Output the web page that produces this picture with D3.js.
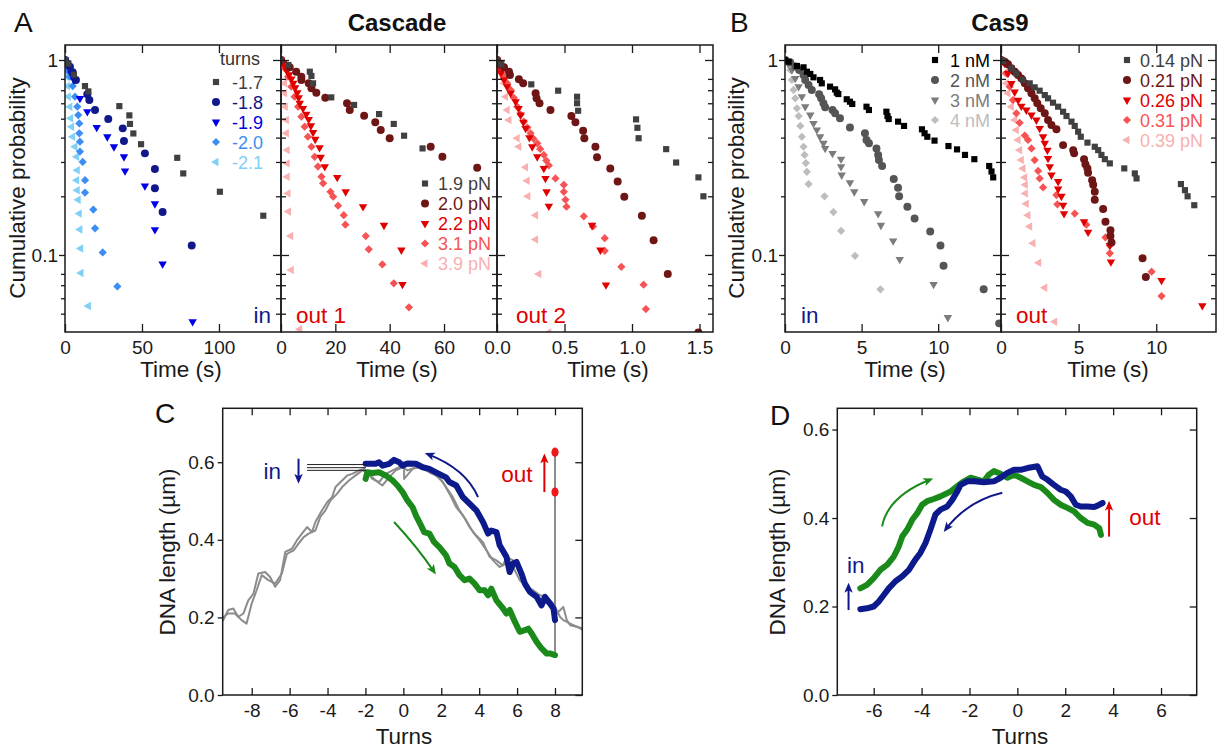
<!DOCTYPE html>
<html>
<head>
<meta charset="utf-8">
<script src="https://cdn.jsdelivr.net/npm/d3@7"></script>
<style>
  body { margin: 0; background: #fff; }
  text { font-family: "Liberation Sans", Arial, sans-serif; }
</style>
</head>
<body>
<div id="fig"></div>
<script>
// ---------- data ----------
// panel A, "in" (turns)
const turnsLabels = ["-1.7", "-1.8", "-1.9", "-2.0", "-2.1"];
const inM17 = [[0,1],[2.2,0.96],[5.8,0.84],[13,0.735],[15.2,0.69],[35.3,0.58],[41.8,0.52],[42.2,0.47],[44.4,0.42],[49.4,0.37],[72.9,0.315],[76.8,0.262],[100.6,0.211],[128.8,0.159]];
const inM18 = [[0,1],[1.5,0.96],[3.2,0.924],[5,0.865],[7.1,0.79],[14.5,0.667],[15.8,0.623],[19.5,0.554],[28.1,0.498],[37.5,0.446],[38.3,0.384],[51.9,0.332],[58.4,0.276],[58.4,0.22],[63.4,0.166],[82.3,0.112]];
const inM19 = [[0,1],[1,0.96],[2.2,0.924],[4,0.85],[5.8,0.79],[9.7,0.636],[14.5,0.543],[20.6,0.451],[27.5,0.404],[31.8,0.359],[38.3,0.319],[39,0.27],[51.9,0.226],[58.4,0.183],[58.4,0.135],[63.4,0.09],[82.9,0.0455]];
const inM20 = [[0,1],[1,0.93],[2,0.88],[3.2,0.821],[5,0.735],[6.5,0.648],[8,0.576],[8.6,0.522],[9.3,0.473],[9.3,0.421],[9.7,0.381],[9.7,0.339],[11.5,0.3],[13,0.242],[13,0.209],[18.4,0.171],[19.5,0.137],[24.5,0.103],[34,0.069]];
const inM21 = [[0,1],[0.3,0.93],[0.6,0.87],[1.1,0.821],[1.7,0.735],[2.2,0.648],[3.2,0.576],[3.7,0.503],[4.3,0.455],[5,0.404],[6.5,0.359],[7.6,0.319],[8,0.272],[7.6,0.242],[8,0.215],[8.6,0.192],[9.3,0.163],[9.7,0.135],[10.2,0.108],[10.4,0.0809],[15.2,0.0548]];

// panel A, "out 1" and "out 2" (force)
const cascadeForceLabels = ["1.9 pN", "2.0 pN", "2.2 pN", "3.1 pN", "3.9 pN"];
const out1F19 = [[0,1],[2.7,0.943],[10.6,0.871],[11.2,0.828],[11.8,0.759],[18.5,0.643],[26.9,0.588],[36.1,0.528],[41.5,0.47],[45.3,0.409],[52.1,0.352]];
const out1F20 = [[0,1],[3.2,0.917],[5.6,0.871],[7.5,0.821],[7.5,0.79],[10.2,0.759],[11.2,0.716],[13,0.68],[16.3,0.641],[24.3,0.6],[25.3,0.554],[30.6,0.518],[34.7,0.479],[36.7,0.438],[40,0.397],[55.1,0.359],[59.4,0.319],[72.2,0.28]];
const out1F22 = [[0,1],[0.8,0.96],[1.5,0.92],[2.2,0.88],[3,0.84],[3.8,0.8],[4.5,0.76],[5.2,0.72],[6,0.68],[6.5,0.64],[6.9,0.6],[8.1,0.565],[9.3,0.528],[10.2,0.496],[11,0.46],[11.8,0.425],[12.6,0.392],[14.2,0.355],[14.6,0.317],[16.1,0.284],[20.7,0.25],[23.8,0.211],[30.2,0.177],[37.9,0.142],[44.3,0.106],[44.7,0.0706]];
const out1F31 = [[0,1],[0.7,0.98],[1.6,0.9],[2.6,0.821],[3.8,0.73],[5,0.648],[6.3,0.576],[7.5,0.512],[8.7,0.455],[9.9,0.404],[11.2,0.359],[12.4,0.319],[13.6,0.284],[14.9,0.252],[15.5,0.233],[18.2,0.211],[19.2,0.199],[21,0.179],[23.1,0.16],[23.7,0.143],[31.2,0.125],[32.3,0.107],[37.3,0.0895],[41.5,0.0716],[47.1,0.0539]];
const out1F39 = [[0,1],[0.7,0.924],[1.35,0.759],[1.35,0.675],[1.6,0.576],[2,0.492],[2,0.421],[2.3,0.345],[2.3,0.295],[2.3,0.252],[2.6,0.207],[2.8,0.167],[3.6,0.125],[3.8,0.0837],[6.9,0.0416]];

const out2F19 = [[0,1],[0.032,0.95],[0.254,0.75],[0.453,0.696],[0.593,0.648],[0.593,0.6],[0.601,0.549],[1.03,0.496],[1.04,0.449],[1.049,0.397],[1.253,0.349],[1.327,0.298],[1.492,0.25],[1.529,0.2]];
const out2F20 = [[0,1],[0.02,0.96],[0.052,0.917],[0.089,0.871],[0.096,0.838],[0.162,0.796],[0.194,0.759],[0.286,0.675],[0.293,0.636],[0.315,0.6],[0.396,0.554],[0.551,0.516],[0.581,0.479],[0.638,0.434],[0.647,0.397],[0.729,0.359],[0.741,0.317],[0.839,0.278],[0.894,0.238],[0.943,0.199],[1.073,0.159],[1.16,0.119],[1.265,0.0798],[1.492,0.04]];
const out2F22 = [[0,1],[0.015,0.93],[0.03,0.86],[0.052,0.79],[0.075,0.73],[0.101,0.675],[0.138,0.611],[0.16,0.565],[0.175,0.522],[0.195,0.48],[0.212,0.446],[0.24,0.4],[0.261,0.359],[0.298,0.319],[0.347,0.278],[0.359,0.247],[0.367,0.211],[0.384,0.178],[0.704,0.142],[0.766,0.106],[0.807,0.0703]];
const out2F31 = [[0,1],[0.015,0.92],[0.03,0.86],[0.052,0.821],[0.075,0.76],[0.101,0.702],[0.125,0.64],[0.15,0.576],[0.175,0.525],[0.199,0.483],[0.225,0.45],[0.249,0.421],[0.27,0.395],[0.298,0.374],[0.32,0.35],[0.347,0.326],[0.365,0.305],[0.384,0.288],[0.433,0.247],[0.495,0.229],[0.495,0.211],[0.507,0.192],[0.515,0.177],[0.643,0.158],[0.711,0.14],[0.798,0.122],[0.798,0.105],[0.921,0.087],[1.086,0.0704],[1.103,0.0528]];
const out2F39 = [[0,1],[0.01,0.95],[0.027,0.889],[0.052,0.759],[0.064,0.648],[0.076,0.554],[0.089,0.492],[0.15,0.397],[0.162,0.359],[0.212,0.282],[0.224,0.24],[0.229,0.2],[0.286,0.16],[0.286,0.12],[0.31,0.0798],[0.384,0.04]];

// panel B, "in" (concentration) and "out" (force)
const cas9ConcLabels = ["1 nM", "2 nM", "3 nM", "4 nM"];
const cas9In1 = [[0,1],[0.24,0.98],[0.78,0.932],[1.21,0.917],[1.43,0.871],[1.65,0.848],[1.86,0.815],[2.29,0.79],[2.4,0.759],[2.94,0.73],[3.27,0.707],[3.38,0.68],[3.48,0.669],[4.03,0.629],[4.24,0.611],[4.39,0.595],[5.32,0.576],[5.48,0.554],[6.62,0.543],[6.69,0.516],[6.77,0.498],[7.38,0.483],[7.77,0.459],[8.94,0.441],[9.11,0.421],[9.29,0.404],[9.76,0.386],[10.67,0.362],[11.23,0.348],[11.75,0.326],[12.36,0.31],[13.33,0.286],[13.48,0.268],[13.59,0.25]];
const cas9In2 = [[0,1],[0.35,0.97],[0.67,0.925],[0.93,0.889],[1.21,0.838],[1.32,0.79],[1.54,0.745],[1.75,0.702],[2.23,0.667],[2.36,0.636],[2.51,0.6],[2.62,0.572],[3.1,0.554],[3.27,0.533],[3.59,0.503],[4.24,0.451],[5.22,0.421],[5.32,0.389],[5.48,0.374],[5.97,0.352],[6.08,0.326],[6.13,0.307],[6.34,0.286],[7.1,0.245],[7.38,0.221],[7.45,0.2],[7.99,0.177],[8.46,0.154],[9.48,0.132],[10.15,0.112],[10.35,0.088],[12.97,0.0667],[13.98,0.0446]];
const cas9In3 = [[0,1],[0.2,0.96],[0.45,0.889],[0.67,0.805],[0.89,0.73],[1.1,0.648],[1.32,0.576],[1.65,0.522],[1.86,0.473],[2.08,0.438],[2.29,0.404],[2.51,0.374],[2.62,0.352],[3.1,0.332],[3.66,0.31],[3.66,0.284],[3.7,0.257],[4.24,0.235],[4.52,0.211],[5.17,0.188],[6.08,0.163],[6.26,0.142],[7.06,0.118],[7.49,0.095],[9.7,0.0706],[10.63,0.0478]];
const cas9In4 = [[0,1],[0.24,0.98],[0.35,0.889],[0.45,0.79],[0.56,0.702],[0.67,0.636],[0.78,0.565],[0.89,0.516],[1.0,0.459],[1.1,0.404],[1.21,0.359],[1.28,0.326],[1.36,0.296],[1.43,0.267],[1.54,0.231],[2.58,0.2],[3.16,0.166],[3.66,0.133],[4.57,0.099],[6.23,0.0667]];

const cas9ForceLabels = ["0.14 pN", "0.21 pN", "0.26 pN", "0.31 pN", "0.39 pN"];
const cas9Out14 = [[0,1],[0.13,0.99],[0.67,0.906],[0.99,0.854],[1.42,0.79],[1.85,0.759],[2.17,0.724],[2.49,0.696],[2.82,0.661],[3.03,0.636],[3.35,0.604],[3.68,0.576],[4.0,0.543],[4.22,0.516],[4.54,0.483],[4.75,0.459],[4.97,0.429],[5.14,0.404],[5.57,0.377],[6.04,0.359],[6.26,0.345],[6.47,0.326],[6.69,0.31],[7.01,0.295],[7.94,0.278],[8.62,0.262],[8.73,0.247],[11.59,0.231],[11.85,0.215],[12.02,0.2],[12.45,0.18]];
const cas9Out21 = [[0,1],[0.24,0.98],[0.45,0.95],[0.67,0.906],[0.88,0.871],[1.1,0.838],[1.31,0.805],[1.53,0.759],[1.74,0.716],[1.96,0.675],[2.17,0.636],[2.34,0.6],[2.56,0.565],[2.82,0.533],[3.03,0.492],[3.25,0.464],[3.57,0.441],[4.0,0.366],[4.65,0.345],[4.71,0.332],[5.35,0.31],[5.44,0.292],[5.57,0.278],[5.61,0.264],[5.87,0.242],[5.94,0.229],[6.04,0.211],[6.04,0.192],[6.58,0.172],[6.73,0.148],[7.05,0.134],[7.05,0.125],[7.12,0.116],[9.12,0.0963],[9.33,0.0772]];
const cas9Out26 = [[0,1],[0.24,0.96],[0.45,0.854],[0.67,0.759],[0.88,0.685],[1.1,0.623],[1.31,0.58],[1.63,0.554],[1.96,0.522],[2.28,0.492],[2.49,0.446],[2.71,0.404],[2.82,0.374],[2.99,0.345],[3.03,0.313],[3.14,0.284],[3.25,0.257],[3.68,0.238],[3.68,0.218],[3.89,0.2],[4.0,0.18],[4.06,0.163],[5.35,0.148],[5.61,0.131],[7.01,0.112],[7.08,0.0921],[10.34,0.0741],[12.97,0.055]];
const cas9Out31 = [[0,1],[0.13,0.98],[0.34,0.854],[0.56,0.73],[0.77,0.623],[0.99,0.533],[1.2,0.476],[1.53,0.41],[1.74,0.389],[1.96,0.352],[2.17,0.307],[2.39,0.27],[2.49,0.247],[2.71,0.222],[3.57,0.203],[3.63,0.182],[4.75,0.163],[5.5,0.143],[6.73,0.123],[7.01,0.112],[7.01,0.102],[9.7,0.0821],[10.34,0.0616]];
const cas9Out39 = [[0,1],[0.13,0.96],[0.24,0.854],[0.34,0.759],[0.45,0.675],[0.67,0.576],[0.88,0.492],[0.99,0.438],[1.1,0.389],[1.2,0.345],[1.31,0.307],[1.42,0.278],[1.53,0.25],[1.57,0.229],[1.57,0.207],[1.63,0.183],[1.74,0.16],[1.85,0.14],[2.06,0.115],[2.43,0.0913],[2.82,0.0679],[3.46,0.0455]];

// panel C traces [turns, length um]
const cGray1 = [[-9.5,0.193],[-9.24,0.219],[-8.97,0.223],[-8.71,0.201],[-8.44,0.21],[-8.18,0.244],[-7.91,0.261],[-7.65,0.313],[-7.29,0.317],[-7.03,0.304],[-6.76,0.279],[-6.5,0.296],[-6.23,0.369],[-5.88,0.377],[-5.61,0.399],[-5.35,0.416],[-5.08,0.433],[-4.82,0.42],[-4.64,0.446],[-4.29,0.476],[-4.02,0.497],[-3.76,0.51],[-3.58,0.536],[-3.23,0.553],[-2.96,0.566],[-2.7,0.57],[-2.34,0.579],[-2.08,0.583],[-1.81,0.57],[-1.46,0.553],[-1.11,0.54],[-0.75,0.561],[-0.4,0.579],[-0.04,0.587],[0.22,0.579],[0.66,0.587],[1.02,0.591],[1.37,0.574],[1.72,0.566],[2.08,0.549],[2.43,0.519],[2.79,0.484],[3.14,0.463],[3.49,0.433],[3.85,0.411],[4.2,0.394],[4.55,0.356],[4.91,0.347],[5.26,0.334],[5.44,0.356],[5.79,0.347],[6.14,0.321],[6.5,0.27],[6.85,0.257],[7.21,0.244],[7.56,0.236],[7.91,0.227],[8.09,0.21],[8.44,0.227],[8.62,0.193],[8.8,0.18],[9.15,0.176],[9.5,0.171]];
const cGray2 = [[-9.5,0.201],[-9.24,0.21],[-8.89,0.21],[-8.53,0.193],[-8.27,0.184],[-8.0,0.236],[-7.74,0.27],[-7.47,0.309],[-7.12,0.296],[-6.76,0.287],[-6.41,0.313],[-6.14,0.364],[-5.79,0.373],[-5.53,0.39],[-5.26,0.407],[-5.0,0.416],[-4.64,0.424],[-4.38,0.459],[-4.11,0.476],[-3.85,0.501],[-3.49,0.519],[-3.23,0.536],[-2.87,0.553],[-2.52,0.566],[-2.17,0.579],[-1.9,0.574],[-1.64,0.557],[-1.28,0.549],[-0.93,0.57],[-0.57,0.579],[-0.22,0.587],[0.04,0.6],[0.04,0.557],[0.49,0.583],[0.84,0.587],[1.19,0.579],[1.55,0.57],[1.9,0.561],[2.25,0.536],[2.61,0.51],[2.96,0.476],[3.32,0.45],[3.67,0.42],[4.02,0.399],[4.38,0.373],[4.73,0.347],[5.08,0.33],[5.44,0.339],[5.79,0.33],[6.14,0.296],[6.5,0.279],[6.85,0.27],[7.21,0.257],[7.56,0.253],[7.91,0.236],[8.27,0.201],[8.44,0.193],[8.8,0.184],[9.15,0.176],[9.5,0.167]];
const cBlue = [[-1.99,0.596],[-1.46,0.596],[-1.28,0.6],[-1.1,0.591],[-0.75,0.596],[-0.49,0.606],[-0.22,0.6],[-0.04,0.591],[0.22,0.597],[0.66,0.596],[1.02,0.587],[1.37,0.583],[1.72,0.574],[2.25,0.561],[2.43,0.549],[2.79,0.54],[3.14,0.51],[3.49,0.493],[3.85,0.476],[4.2,0.446],[4.47,0.416],[4.64,0.424],[4.91,0.42],[5.08,0.386],[5.44,0.356],[5.61,0.317],[5.79,0.339],[5.97,0.343],[6.23,0.313],[6.41,0.287],[6.67,0.266],[7.03,0.253],[7.29,0.231],[7.47,0.253],[7.73,0.236],[7.92,0.223],[8.0,0.193]];
const cGreen = [[-1.99,0.557],[-1.9,0.574],[-1.63,0.572],[-1.28,0.574],[-0.93,0.566],[-0.57,0.553],[-0.31,0.54],[-0.04,0.523],[0.22,0.501],[0.49,0.484],[0.66,0.463],[0.93,0.437],[1.1,0.42],[1.37,0.416],[1.63,0.394],[1.9,0.381],[2.25,0.36],[2.43,0.339],[2.7,0.33],[2.96,0.309],[3.23,0.296],[3.49,0.3],[3.76,0.287],[4.02,0.27],[4.29,0.27],[4.47,0.257],[4.64,0.274],[4.91,0.244],[5.26,0.223],[5.44,0.21],[5.61,0.219],[5.88,0.189],[6.14,0.163],[6.41,0.167],[6.59,0.171],[6.76,0.159],[7.03,0.137],[7.29,0.12],[7.56,0.107],[7.73,0.107],[8.0,0.103]];
const cOutLine = [[8, 0.103], [8, 0.626]];
const cOutDots = [[8, 0.626], [8, 0.523]];
const cInLines = [0.594, 0.586, 0.579];

// panel D traces
const dBlue = [[-6.56,0.194],[-6.28,0.196],[-6.0,0.2],[-5.79,0.211],[-5.58,0.226],[-5.37,0.241],[-5.09,0.257],[-4.81,0.268],[-4.53,0.283],[-4.26,0.306],[-4.05,0.321],[-3.84,0.343],[-3.63,0.374],[-3.42,0.408],[-3.21,0.419],[-2.93,0.426],[-2.72,0.441],[-2.51,0.46],[-2.37,0.475],[-2.09,0.483],[-1.81,0.483],[-1.4,0.481],[-0.98,0.483],[-0.7,0.491],[-0.42,0.502],[-0.14,0.509],[0.14,0.509],[0.42,0.513],[0.84,0.517],[1.04,0.494],[1.25,0.487],[1.53,0.475],[1.81,0.464],[2.02,0.46],[2.23,0.449],[2.44,0.43],[2.65,0.426],[2.93,0.426],[3.21,0.425],[3.35,0.428],[3.56,0.434]];
const dGreen = [[-6.56,0.241],[-6.28,0.249],[-6.0,0.264],[-5.72,0.283],[-5.44,0.294],[-5.16,0.313],[-4.95,0.336],[-4.81,0.358],[-4.6,0.374],[-4.39,0.396],[-4.18,0.411],[-3.98,0.43],[-3.77,0.438],[-3.49,0.443],[-3.21,0.449],[-2.79,0.46],[-2.51,0.472],[-2.23,0.483],[-1.95,0.491],[-1.67,0.487],[-1.4,0.483],[-1.19,0.498],[-0.98,0.506],[-0.7,0.5],[-0.42,0.491],[-0.14,0.498],[0.14,0.491],[0.42,0.483],[0.7,0.475],[0.98,0.47],[1.25,0.457],[1.53,0.441],[1.81,0.43],[2.09,0.423],[2.37,0.415],[2.65,0.4],[2.93,0.389],[3.21,0.385],[3.42,0.377],[3.49,0.362]];

// ticks
const logMajor = [1, 0.1];
const logMinor = [0.8, 0.7, 0.6, 0.5, 0.4, 0.3, 0.2, 0.08, 0.07, 0.06, 0.05];
const a1Ticks = [0, 50, 100];
const a2Ticks = [0, 20, 40, 60];
const a3Ticks = [0, 0.5, 1.0, 1.5];
const bTicks = [0, 5, 10];
const cTurnTicks = [-8, -6, -4, -2, 0, 2, 4, 6, 8];
const dTurnTicks = [-6, -4, -2, 0, 2, 4, 6];
const lengthTicks = [0, 0.2, 0.4, 0.6];

// colours / shapes
const turnsColors = ["#404040", "#10188a", "#0000e8", "#3c8ef2", "#80d0f6"];
const forceColors = ["#404040", "#6e1616", "#e00000", "#f65454", "#f8b0b0"];
const concColors = ["#000000", "#555555", "#7c7c7c", "#bdbdbd"];
const shapeOrder = ["square", "circle", "down", "diamond", "left"];
const navy = "#10188a", red = "#e00000", green = "#1a8a1a", blueLine = "#0d1a8c", grayLine = "#8c8c8c";

// ---------- setup ----------
const width = 1217, height = 749;
const svg = d3.select("#fig").append("svg")
    .attr("width", width)
    .attr("height", height)
    .style("background", "#fff");

const ink = "#1a1a1a";
const tickFont = 19, titleFont = 22.5, legendFont = 18, tagFont = 22.5;
const yTop = 45, yBot = 332;
const yLog = d3.scaleLog().domain([0.04028, 1.1937]).range([yBot, yTop]);

const symbols = {
    square: d3.symbol().type(d3.symbolSquare).size(38)(),
    circle: d3.symbol().type(d3.symbolCircle).size(50)(),
    down: d3.symbol().type(d3.symbolTriangle).size(31)(),
    left: d3.symbol().type(d3.symbolTriangle).size(31)(),
    diamond: d3.symbol().type(d3.symbolSquare).size(34)()
};
const symbolRot = { square: 0, circle: 0, down: 180, left: -90, diamond: 45 };

function styleAxis(g, fontSize) {
    g.select(".domain").remove();
    g.selectAll(".tick line").attr("stroke", ink).attr("stroke-width", 1.3);
    g.selectAll(".tick text")
        .attr("fill", ink)
        .style("font-family", "'Liberation Sans', Arial, sans-serif")
        .style("font-size", fontSize + "px");
    g.attr("font-family", null).attr("font-size", null);
}

// one sub-panel with a log y axis
function logPanel(cfg) {
    let x = d3.scaleLinear().domain(cfg.xDomain).range([cfg.x0, cfg.x1]);
    let g = svg.append("g");

    g.append("clipPath").attr("id", cfg.id)
        .append("rect")
        .attr("x", cfg.x0).attr("y", yTop)
        .attr("width", cfg.x1 - cfg.x0).attr("height", yBot - yTop);

    let pts = g.append("g").attr("clip-path", "url(#" + cfg.id + ")");
    // draw last series first so the dark ones sit on top
    cfg.series.slice().reverse().forEach(s => {
        pts.selectAll(null)
            .data(s.data)
            .enter()
            .append("path")
            .attr("d", symbols[s.shape])
            .attr("transform", d => "translate(" + x(d[0]) + "," + yLog(d[1]) + ") rotate(" + symbolRot[s.shape] + ")")
            .attr("fill", s.color);
    });

    g.append("rect")
        .attr("x", cfg.x0).attr("y", yTop)
        .attr("width", cfg.x1 - cfg.x0).attr("height", yBot - yTop)
        .attr("fill", "none").attr("stroke", ink).attr("stroke-width", 1.5);

    // bottom axis, ticks inside
    let bx = g.append("g").attr("transform", "translate(0," + yBot + ")")
        .call(d3.axisBottom(x).tickValues(cfg.ticks).tickSizeInner(-8).tickSizeOuter(0)
            .tickPadding(9).tickFormat(cfg.fmt));
    styleAxis(bx, tickFont);
    // top ticks
    let tx = g.append("g").attr("transform", "translate(0," + yTop + ")")
        .call(d3.axisTop(x).tickValues(cfg.ticks).tickSizeInner(-8).tickSizeOuter(0).tickFormat(""));
    styleAxis(tx, tickFont);

    // left axis
    let leftMajor = cfg.leftOut ? 6 : -8, leftMinor = cfg.leftOut ? 4 : -5;
    let ly = g.append("g").attr("transform", "translate(" + cfg.x0 + ",0)")
        .call(d3.axisLeft(yLog).tickValues(logMajor).tickSizeInner(leftMajor).tickSizeOuter(0)
            .tickPadding(cfg.leftOut ? 1 : 0)
            .tickFormat(cfg.leftOut ? (d => d === 1 ? "1" : "0.1") : ""));
    styleAxis(ly, tickFont);
    let lm = g.append("g").attr("transform", "translate(" + cfg.x0 + ",0)")
        .call(d3.axisLeft(yLog).tickValues(logMinor).tickSizeInner(leftMinor).tickSizeOuter(0).tickFormat(""));
    styleAxis(lm, tickFont);

    // right axis, ticks inside
    let ry = g.append("g").attr("transform", "translate(" + cfg.x1 + ",0)")
        .call(d3.axisRight(yLog).tickValues(logMajor).tickSizeInner(-8).tickSizeOuter(0).tickFormat(""));
    styleAxis(ry, tickFont);
    let rm = g.append("g").attr("transform", "translate(" + cfg.x1 + ",0)")
        .call(d3.axisRight(yLog).tickValues(logMinor).tickSizeInner(-5).tickSizeOuter(0).tickFormat(""));
    styleAxis(rm, tickFont);

    // x title
    g.append("text")
        .attr("x", cfg.titleX).attr("y", 377)
        .attr("text-anchor", "middle")
        .style("font-size", titleFont + "px").attr("fill", ink)
        .text("Time (s)");

    // corner label (in / out)
    g.append("text")
        .attr("x", cfg.tagX).attr("y", 323)
        .attr("text-anchor", cfg.tagAnchor)
        .style("font-size", tagFont + "px").attr("fill", cfg.tagColor)
        .text(cfg.tag);
    return x;
}

function legend(labels, colors, mx, tx, y0) {
    let g = svg.append("g");
    labels.forEach((lab, i) => {
        let yy = y0 + i * 20;
        g.append("path")
            .attr("d", symbols[shapeOrder[i]])
            .attr("transform", "translate(" + mx + "," + yy + ") rotate(" + symbolRot[shapeOrder[i]] + ")")
            .attr("fill", colors[i]);
        g.append("text")
            .attr("x", tx).attr("y", yy + 6.5)
            .style("font-size", legendFont + "px")
            .attr("fill", colors[i])
            .text(lab);
    });
}

function mkSeries(list, colors) {
    return list.map((d, i) => ({ data: d, shape: shapeOrder[i], color: colors[i] }));
}

// ---------- panel A ----------
logPanel({ id: "a1", x0: 65, x1: 281, xDomain: [0, 140.3], ticks: a1Ticks, fmt: d3.format("d"),
    series: mkSeries([inM17, inM18, inM19, inM20, inM21], turnsColors), leftOut: true,
    titleX: 181, tag: "in", tagX: 271, tagAnchor: "end", tagColor: navy });
logPanel({ id: "a2", x0: 281, x1: 497, xDomain: [0, 79.5], ticks: a2Ticks, fmt: d3.format("d"),
    series: mkSeries([out1F19, out1F20, out1F22, out1F31, out1F39], forceColors), leftOut: false,
    titleX: 397, tag: "out 1", tagX: 296, tagAnchor: "start", tagColor: red });
logPanel({ id: "a3", x0: 497, x1: 713, xDomain: [0, 1.6], ticks: a3Ticks, fmt: d3.format(".1f"),
    series: mkSeries([out2F19, out2F20, out2F22, out2F31, out2F39], forceColors), leftOut: false,
    titleX: 608, tag: "out 2", tagX: 516, tagAnchor: "start", tagColor: red });

svg.append("text").attr("x", 220).attr("y", 65)
    .style("font-size", legendFont + "px").attr("fill", "#333").text("turns");
legend(turnsLabels, turnsColors, 216, 232, 82);
legend(cascadeForceLabels, forceColors, 425, 438, 183.5);

// ---------- panel B ----------
logPanel({ id: "b1", x0: 785, x1: 1001, xDomain: [0, 14.1], ticks: bTicks, fmt: d3.format("d"),
    series: mkSeries([cas9In1, cas9In2, cas9In3, cas9In4], concColors), leftOut: true,
    titleX: 905, tag: "in", tagX: 801, tagAnchor: "start", tagColor: navy });
logPanel({ id: "b2", x0: 1001, x1: 1216, xDomain: [0, 13.85], ticks: bTicks, fmt: d3.format("d"),
    series: mkSeries([cas9Out14, cas9Out21, cas9Out26, cas9Out31, cas9Out39], forceColors), leftOut: false,
    titleX: 1108, tag: "out", tagX: 1016, tagAnchor: "start", tagColor: red });

legend(cas9ConcLabels, concColors, 935, 950, 60);
legend(cas9ForceLabels, forceColors, 1127, 1140, 60);

// y titles for A and B
[[25, 188], [744, 188]].forEach(p => {
    svg.append("text")
        .attr("transform", "translate(" + p[0] + "," + p[1] + ") rotate(-90)")
        .attr("text-anchor", "middle")
        .style("font-size", titleFont + "px").attr("fill", ink)
        .text("Cumulative probability");
});

// ---------- arrows ----------
const defs = svg.append("defs");
function arrowHead(id, color) {
    defs.append("marker")
        .attr("id", id)
        .attr("viewBox", "0 0 10 10")
        .attr("refX", 7).attr("refY", 5)
        .attr("markerWidth", 10).attr("markerHeight", 10)
        .attr("markerUnits", "userSpaceOnUse")
        .attr("orient", "auto")
        .append("path")
        .attr("d", "M0,0.8 L10,5 L0,9.2 L2.5,5 Z")
        .attr("fill", color);
}
arrowHead("ahNavy", navy);
arrowHead("ahRed", red);
arrowHead("ahGreen", green);

// ---------- line panels C and D ----------
function linePanel(cfg) {
    let x = d3.scaleLinear().domain(cfg.xDomain).range([cfg.x0, cfg.x1]);
    let y = d3.scaleLinear().domain(cfg.yDomain).range([695, 408.3]);
    let g = svg.append("g");

    g.append("clipPath").attr("id", cfg.id)
        .append("rect")
        .attr("x", cfg.x0).attr("y", 408.3)
        .attr("width", cfg.x1 - cfg.x0).attr("height", 695 - 408.3);

    let line = d3.line().x(d => x(d[0])).y(d => y(d[1]));
    let lines = g.append("g").attr("clip-path", "url(#" + cfg.id + ")");
    cfg.traces.forEach(t => {
        lines.append("path")
            .attr("d", line(t.data))
            .attr("fill", "none")
            .attr("stroke", t.color)
            .attr("stroke-width", t.w)
            .attr("stroke-linejoin", "round")
            .attr("stroke-linecap", "round");
    });

    g.append("rect")
        .attr("x", cfg.x0).attr("y", 408.3)
        .attr("width", cfg.x1 - cfg.x0).attr("height", 695 - 408.3)
        .attr("fill", "none").attr("stroke", ink).attr("stroke-width", 1.5);

    let bx = g.append("g").attr("transform", "translate(0,695)")
        .call(d3.axisBottom(x).tickValues(cfg.xTicks).tickSizeInner(-7).tickSizeOuter(0)
            .tickPadding(9).tickFormat(d => String(d)));
    styleAxis(bx, tickFont);
    let tx = g.append("g").attr("transform", "translate(0,408.3)")
        .call(d3.axisTop(x).tickValues(cfg.xTicks).tickSizeInner(-7).tickSizeOuter(0).tickFormat(""));
    styleAxis(tx, tickFont);
    let ly = g.append("g").attr("transform", "translate(" + cfg.x0 + ",0)")
        .call(d3.axisLeft(y).tickValues(lengthTicks).tickSizeInner(5).tickSizeOuter(0)
            .tickPadding(3).tickFormat(d3.format(".1f")));
    styleAxis(ly, tickFont);
    let ry = g.append("g").attr("transform", "translate(" + cfg.x1 + ",0)")
        .call(d3.axisRight(y).tickValues(lengthTicks).tickSizeInner(-7).tickSizeOuter(0).tickFormat(""));
    styleAxis(ry, tickFont);

    g.append("text")
        .attr("x", cfg.turnsX).attr("y", 744)
        .attr("text-anchor", "middle")
        .style("font-size", titleFont + "px").attr("fill", ink)
        .text("Turns");
    g.append("text")
        .attr("transform", "translate(" + cfg.titleX + ",552) rotate(-90)")
        .attr("text-anchor", "middle")
        .style("font-size", titleFont + "px").attr("fill", ink)
        .text("DNA length (µm)");
    return { x: x, y: y, g: g };
}

function curvedArrow(p, s, c, e, color, head) {
    let path = d3.path();
    path.moveTo(p.x(s[0]), p.y(s[1]));
    path.quadraticCurveTo(p.x(c[0]), p.y(c[1]), p.x(e[0]), p.y(e[1]));
    p.g.append("path")
        .attr("d", path.toString())
        .attr("fill", "none")
        .attr("stroke", color)
        .attr("stroke-width", 2)
        .attr("marker-end", "url(#" + head + ")");
}
function straightArrow(p, s, e, color, head) {
    p.g.append("line")
        .attr("x1", p.x(s[0])).attr("y1", p.y(s[1]))
        .attr("x2", p.x(e[0])).attr("y2", p.y(e[1]))
        .attr("stroke", color).attr("stroke-width", 2)
        .attr("marker-end", "url(#" + head + ")");
}
function label(p, pos, txt, color, anchor) {
    p.g.append("text")
        .attr("x", p.x(pos[0])).attr("y", p.y(pos[1]))
        .attr("text-anchor", anchor || "start")
        .style("font-size", tagFont + "px").attr("fill", color)
        .text(txt);
}

// C
let pc = linePanel({ id: "pc", x0: 222.7, x1: 582.3, xDomain: [-9.53, 9.44], yDomain: [0, 0.739],
    xTicks: cTurnTicks, turnsX: 404, titleX: 175,
    traces: [
        { data: cGray1, color: grayLine, w: 2 },
        { data: cGray2, color: grayLine, w: 2 },
        { data: cOutLine, color: grayLine, w: 2 },
        { data: cBlue, color: blueLine, w: 6 },
        { data: cGreen, color: green, w: 6 }
    ] });
pc.g.selectAll(null).data(cOutDots).enter().append("ellipse")
    .attr("cx", d => pc.x(d[0])).attr("cy", d => pc.y(d[1]))
    .attr("rx", 3.6).attr("ry", 4.6)
    .attr("fill", "#f01818");
cInLines.forEach(v => {
    pc.g.append("line")
        .attr("x1", pc.x(-5.08)).attr("x2", pc.x(-1.97))
        .attr("y1", pc.y(v)).attr("y2", pc.y(v))
        .attr("stroke", "#222").attr("stroke-width", 1);
});
label(pc, [-7.38, 0.557], "in", navy);
straightArrow(pc, [-5.53, 0.609], [-5.53, 0.552], navy, "ahNavy");
label(pc, [5.17, 0.548], "out", red);
straightArrow(pc, [7.44, 0.523], [7.44, 0.615], red, "ahRed");
curvedArrow(pc, [3.94, 0.51], [3.31, 0.583], [1.28, 0.621], navy, "ahNavy");
curvedArrow(pc, [-0.49, 0.446], [0.75, 0.381], [1.63, 0.317], green, "ahGreen");

// D
let pd = linePanel({ id: "pd", x0: 837.3, x1: 1196.7, xDomain: [-7.52, 7.49], yDomain: [0, 0.648],
    xTicks: dTurnTicks, turnsX: 1020, titleX: 785,
    traces: [
        { data: dGreen, color: green, w: 6 },
        { data: dBlue, color: blueLine, w: 6 }
    ] });
label(pd, [-7.11, 0.276], "in", navy);
straightArrow(pd, [-7.05, 0.192], [-7.05, 0.247], navy, "ahNavy");
label(pd, [4.67, 0.385], "out", red);
straightArrow(pd, [3.83, 0.358], [3.83, 0.432], red, "ahRed");
curvedArrow(pd, [-5.65, 0.381], [-5.41, 0.449], [-3.63, 0.487], green, "ahGreen");
curvedArrow(pd, [-0.63, 0.457], [-2.1, 0.438], [-3.0, 0.374], navy, "ahNavy");

// ---------- headings ----------
[["A", 14, 32], ["B", 730, 32], ["C", 155, 423], ["D", 770, 425]].forEach(l => {
    svg.append("text").attr("x", l[1]).attr("y", l[2])
        .style("font-size", "28px").attr("fill", "#111").text(l[0]);
});
[["Cascade", 397], ["Cas9", 1000]].forEach(t => {
    svg.append("text").attr("x", t[1]).attr("y", 31)
        .attr("text-anchor", "middle")
        .style("font-size", "24px").style("font-weight", "bold").attr("fill", "#111")
        .text(t[0]);
});
</script>
</body>
</html>
